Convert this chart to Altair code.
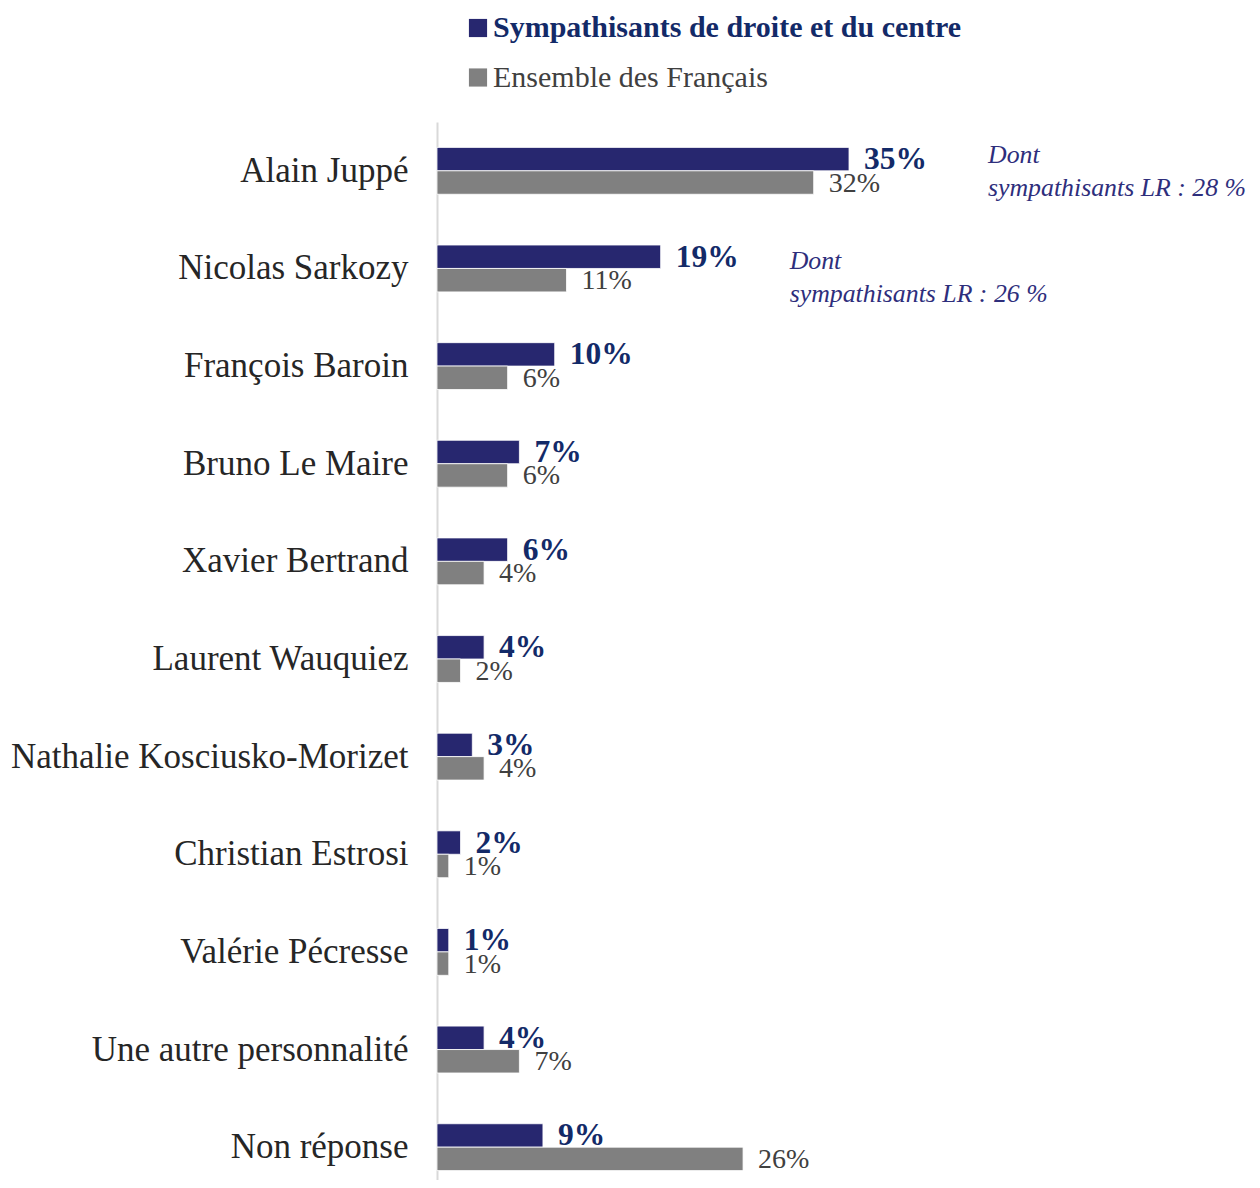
import altair as alt
import pandas as pd

categories = ["Alain Juppé", "Nicolas Sarkozy", "François Baroin", "Bruno Le Maire",
              "Xavier Bertrand", "Laurent Wauquiez", "Nathalie Kosciusko-Morizet",
              "Christian Estrosi", "Valérie Pécresse", "Une autre personnalité", "Non réponse"]
series = ["Sympathisants de droite et du centre", "Ensemble des Français"]
droite_centre = [35, 19, 10, 7, 6, 4, 3, 2, 1, 4, 9]
ensemble = [32, 11, 6, 6, 4, 2, 4, 1, 1, 7, 26]
annot_cats = ["Alain Juppé", "Nicolas Sarkozy"]
annot_texts = [["Dont", "sympathisants LR : 28 %"], ["Dont", "sympathisants LR : 26 %"]]

NAVY = "#27276f"
NAVY_TXT = "#132a68"
GRAY = "#808080"
GRAY_TXT = "#404040"
FONT = "Liberation Serif"

rows = []
for c, a, b in zip(categories, droite_centre, ensemble):
    rows.append({"cat": c, "series": series[0], "value": a, "label": f"{a}%"})
    rows.append({"cat": c, "series": series[1], "value": b, "label": f"{b}%"})
df = pd.DataFrame(rows)

ann = pd.DataFrame({
    "cat": annot_cats,
    "value": [droite_centre[categories.index(c)] for c in annot_cats],
    "text": annot_texts,
    "series": [series[0]] * len(annot_cats),
})

y_enc = alt.Y("cat:N", sort=categories, title=None,
              scale=alt.Scale(paddingInner=0.52, paddingOuter=0.26),
              axis=alt.Axis(labelFont=FONT, labelFontSize=35, labelColor="#262626",
                            labelPadding=29, ticks=False, domain=True,
                            domainColor="#d9d9d9", domainWidth=2, labelLimit=600))
x_enc = alt.X("value:Q", scale=alt.Scale(domain=[0, 70]), axis=None)
yoff = alt.YOffset("series:N", sort=series, scale=alt.Scale(domain=series, paddingInner=0))

base = alt.Chart(df)

bars = base.mark_bar(stroke="white", strokeWidth=0.8).encode(
    x=x_enc, y=y_enc, yOffset=yoff,
    color=alt.Color("series:N", sort=series,
                    scale=alt.Scale(domain=series, range=[NAVY, GRAY]),
                    legend=alt.Legend(
                        title=None, orient="none", legendX=26, legendY=-109,
                        symbolType="square", symbolSize=330, symbolStrokeWidth=0,
                        labelFont=FONT, labelFontSize=30, rowPadding=19.5,
                        labelOffset=0, labelLimit=700,
                        labelColor={"expr": f"datum.label == '{series[0]}' ? '{NAVY_TXT}' : '{GRAY_TXT}'"},
                        labelFontWeight={"expr": f"datum.label == '{series[0]}' ? 'bold' : 'normal'"},
                    )),
)

txt_navy = base.transform_filter(alt.datum.series == series[0]).mark_text(
    align="left", baseline="middle", dx=15, dy=1, font=FONT, fontSize=31.5,
    fontWeight="bold", color=NAVY_TXT
).encode(x=x_enc, y=y_enc, yOffset=yoff, text="label:N")

txt_gray = base.transform_filter(alt.datum.series == series[1]).mark_text(
    align="left", baseline="middle", dx=15, dy=1, font=FONT, fontSize=28,
    color=GRAY_TXT
).encode(x=x_enc, y=y_enc, yOffset=yoff, text="label:N")

ann_base = alt.Chart(ann)
ann1 = ann_base.transform_filter(alt.datum.cat == annot_cats[0]).mark_text(
    align="left", baseline="middle", dx=139, dy=-16, font=FONT, fontSize=25.8,
    fontStyle="italic", color="#2e2e7c", lineHeight=33
).encode(x=x_enc, y=y_enc, text="text")
ann2 = ann_base.transform_filter(alt.datum.cat == annot_cats[1]).mark_text(
    align="left", baseline="middle", dx=129, dy=-7, font=FONT, fontSize=25.8,
    fontStyle="italic", color="#2e2e7c", lineHeight=33
).encode(x=x_enc, y=y_enc, text="text")

chart = alt.layer(bars, txt_navy, txt_gray, ann1, ann2).properties(
    width=824, height=1074,
    padding={"left": 2, "top": 5, "right": -12, "bottom": -16},
).configure_view(stroke=None)

chart.save("out.html", embed_options={"renderer": "svg", "actions": False})
